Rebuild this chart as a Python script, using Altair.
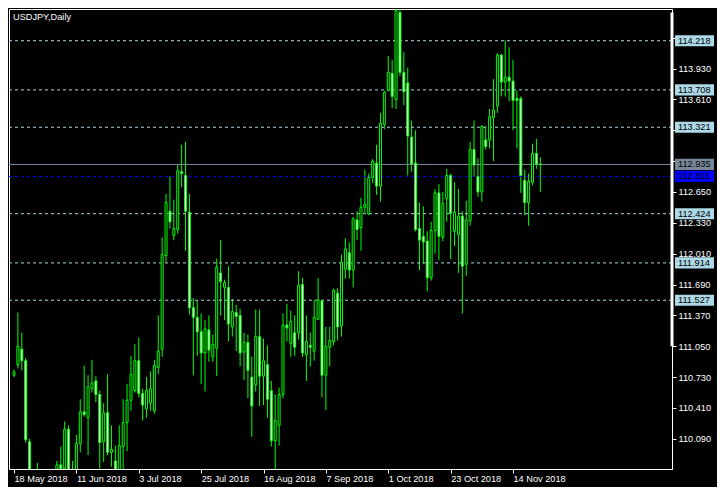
import altair as alt
import pandas as pd

# ---- candle data (USDJPY daily) ----
bar_index = list(range(136))
opens = [110.75, 110.86, 111.02, 110.90, 110.06, 109.25, 109.45, 109.40, 109.05, 108.80,
         108.90, 108.80, 109.82, 109.78, 110.19, 109.70, 109.55, 110.04, 110.37, 110.31,
         110.61, 110.69, 110.55, 110.06, 110.36, 109.95, 109.86, 109.72, 110.01, 110.26,
         110.49, 110.59, 110.90, 110.56, 110.40, 110.46, 110.38, 110.83, 111.02, 111.99,
         112.45, 112.20, 112.26, 112.86, 112.82, 112.44, 111.45, 111.35, 111.20, 110.98,
         111.22, 110.94, 111.03, 111.81, 111.66, 111.66, 111.25, 111.40, 111.37, 110.99,
         111.09, 110.73, 110.65, 111.15, 110.74, 110.86, 110.59, 110.07, 110.23, 110.55,
         111.27, 111.08, 111.19, 111.19, 111.69, 110.96, 111.06, 111.00, 111.33, 111.52,
         110.75, 111.04, 111.10, 111.60, 111.26, 111.85, 112.02, 111.84, 112.36, 112.28,
         112.49, 112.42, 112.80, 112.95, 112.71, 113.35, 113.70, 113.88, 113.61, 114.51,
         113.89, 113.78, 113.22, 112.95, 112.27, 112.19, 112.14, 111.76, 112.25, 112.64,
         112.18, 112.58, 112.82, 112.24, 112.21, 112.40, 111.90, 112.35, 113.09, 112.81,
         112.65, 113.19, 113.19, 113.42, 113.54, 114.07, 113.79, 113.84, 113.80, 113.62,
         113.62, 112.77, 112.54, 112.75, 113.05, 112.94]
highs = [110.81, 111.40, 111.19, 110.93, 110.09, 109.75, 109.84, 109.70, 109.20, 109.10,
         109.10, 109.86, 110.01, 110.27, 110.23, 109.86, 110.13, 110.50, 110.85, 110.75,
         110.91, 110.74, 110.59, 110.46, 110.76, 110.23, 110.02, 110.23, 110.50, 110.66,
         110.95, 111.07, 111.14, 110.61, 110.73, 110.79, 110.91, 111.37, 112.18, 112.63,
         112.81, 112.57, 112.93, 113.14, 113.17, 112.63, 111.55, 111.52, 111.39, 111.32,
         111.37, 111.17, 111.96, 112.15, 111.74, 111.88, 111.54, 111.48, 111.44, 111.19,
         111.17, 110.94, 111.43, 111.43, 111.13, 111.06, 110.69, 110.55, 110.62, 111.39,
         111.49, 111.42, 111.37, 111.83, 111.76, 111.37, 111.19, 111.53, 111.76, 111.53,
         111.25, 111.25, 111.65, 111.65, 112.00, 112.17, 112.13, 112.39, 112.45, 112.59,
         112.88, 112.84, 112.99, 113.14, 113.47, 113.70, 114.06, 114.02, 114.55, 114.55,
         114.10, 113.94, 113.39, 113.29, 112.54, 112.50, 112.24, 112.34, 112.68, 112.73,
         112.65, 112.89, 112.84, 112.75, 112.68, 112.45, 112.56, 113.17, 113.39, 113.00,
         113.34, 113.33, 113.51, 113.82, 114.09, 114.08, 114.22, 114.15, 114.02, 113.70,
         113.64, 112.88, 112.84, 113.15, 113.20, 113.01]
lows = [110.73, 110.82, 110.80, 110.05, 109.15, 109.05, 109.30, 108.95, 108.10, 108.60,
        108.70, 108.75, 109.55, 109.70, 109.60, 109.40, 109.50, 109.95, 110.32, 109.92,
        110.57, 110.47, 109.78, 109.85, 109.92, 109.80, 109.65, 109.67, 109.76, 109.96,
        110.38, 110.57, 110.52, 110.28, 110.31, 110.38, 110.35, 110.76, 110.94, 111.92,
        112.27, 112.15, 112.22, 112.70, 112.04, 111.38, 110.75, 110.95, 110.66, 110.58,
        110.89, 110.89, 110.74, 111.37, 111.32, 111.10, 111.15, 111.00, 110.84, 110.70,
        110.51, 110.11, 110.58, 110.43, 110.44, 110.31, 110.01, 109.75, 110.02, 110.51,
        111.10, 110.94, 110.95, 111.12, 110.94, 110.69, 110.84, 110.90, 111.32, 110.52,
        110.39, 110.84, 111.06, 111.11, 111.15, 111.75, 111.75, 111.66, 112.15, 112.04,
        112.43, 112.41, 112.74, 112.62, 112.55, 113.30, 113.70, 113.52, 113.51, 113.85,
        113.55, 112.82, 112.86, 112.24, 111.84, 111.90, 111.62, 111.73, 112.01, 111.94,
        112.14, 112.34, 111.95, 112.09, 111.81, 111.39, 111.78, 112.30, 112.81, 112.60,
        112.55, 113.09, 113.10, 112.97, 113.47, 113.64, 113.64, 113.59, 113.29, 113.10,
        112.64, 112.41, 112.30, 112.72, 112.89, 112.65]
closes = [110.78, 111.05, 110.90, 110.08, 109.25, 109.45, 109.40, 109.05, 108.80, 108.90,
          108.80, 109.82, 109.78, 110.19, 109.70, 109.55, 110.04, 110.37, 110.34, 110.63,
          110.67, 110.55, 110.05, 110.36, 109.95, 109.98, 109.72, 110.02, 110.26, 110.49,
          110.76, 110.90, 110.56, 110.44, 110.59, 110.61, 110.85, 111.00, 112.00, 112.54,
          112.34, 112.27, 112.87, 112.84, 112.45, 111.45, 111.35, 111.20, 110.98, 111.23,
          111.01, 111.07, 111.87, 111.72, 111.71, 111.28, 111.41, 111.36, 110.98, 111.09,
          110.80, 110.43, 111.15, 110.74, 110.90, 110.50, 110.07, 110.28, 110.55, 111.27,
          111.24, 111.31, 111.04, 111.68, 110.98, 111.10, 111.04, 111.35, 111.53, 110.75,
          111.05, 111.11, 111.63, 111.25, 111.92, 112.06, 111.84, 112.37, 112.26, 112.49,
          112.52, 112.80, 112.97, 112.71, 113.36, 113.68, 113.89, 113.64, 114.53, 113.89,
          113.69, 113.23, 112.94, 112.26, 112.15, 112.13, 111.76, 112.25, 112.64, 112.19,
          112.53, 112.82, 112.43, 112.44, 112.40, 111.88, 112.36, 113.09, 112.93, 112.65,
          113.33, 113.12, 113.43, 113.50, 114.07, 113.79, 113.84, 113.80, 113.60, 113.60,
          112.82, 112.54, 112.76, 113.05, 112.94, 112.935]

# ---- horizontal levels and axis labels ----
level_values = [114.218, 113.708, 113.321, 112.424, 111.914, 111.527]
bid_value = [112.935]
blue_value = [112.811]
price_ticks = [110.090, 110.410, 110.730, 111.050, 111.370, 111.690, 112.010,
               112.330, 112.650, 112.970, 113.290, 113.610, 113.930, 114.250]
hidden_tick_labels = [112.970, 113.290, 114.250]   # covered by level boxes in the reference
date_tick_index = [0, 16, 32, 48, 64, 80, 96, 112, 128]
date_labels = ["18 May 2018", "11 Jun 2018", "3 Jul 2018", "25 Jul 2018", "16 Aug 2018",
               "7 Sep 2018", "1 Oct 2018", "23 Oct 2018", "14 Nov 2018"]
scale_bar = {"top": [114.51], "bottom": [111.05]}
title_text = ["USDJPY,Daily"]

df = pd.DataFrame({"i": bar_index, "o": opens, "h": highs, "l": lows, "c": closes})

W, H = 663, 460
FONT = "Liberation Sans"
FS = 9.2
GREEN = "#00ff00"
LBLUE = "#add8e6"

xs = alt.Scale(domain=[0, 167.5], nice=False, zero=False)
ys = alt.Scale(domain=[109.777, 114.547], nice=False, zero=False)

label_expr = "[" + ",".join("'%s'" % s for s in date_labels) + "][round(datum.value/16)]"
hide_test = " || ".join("abs(datum.value - %s) < 0.0005" % v for v in hidden_tick_labels)
y_label_expr = "(%s) ? '' : format(datum.value, '.3f')" % hide_test

x_axis = alt.Axis(values=date_tick_index, labelExpr=label_expr, orient="bottom",
                  tickSize=4, tickColor="white", domainColor="white", labelColor="white",
                  labelFont=FONT, labelFontSize=FS, labelAlign="left", labelBaseline="top",
                  labelPadding=1, grid=False, title=None, labelFlush=False,
                  labelOverlap=False)
y_axis = alt.Axis(values=price_ticks, labelExpr=y_label_expr, orient="right", tickSize=4,
                  tickColor="white", domainColor="white", labelColor="white",
                  labelFont=FONT, labelFontSize=FS, labelPadding=2, grid=False,
                  title=None, labelOverlap=False, labelFlush=False)


def Y(field):
    return alt.Y(field, scale=ys, axis=y_axis)


lev_df = pd.DataFrame({"v": level_values})
levels = alt.Chart(lev_df).mark_rule(color=LBLUE, strokeDash=[3, 3], strokeWidth=1).encode(
    y=Y("v:Q"))
blue_line = alt.Chart(pd.DataFrame({"v": blue_value})).mark_rule(
    color="#0000ff", strokeDash=[3, 3], strokeWidth=1).encode(y=Y("v:Q"))
bid_line = alt.Chart(pd.DataFrame({"v": bid_value})).mark_rule(
    color="#778899", strokeWidth=1).encode(y=Y("v:Q"))

base = alt.Chart(df)
wicks = base.mark_rule(color=GREEN, strokeWidth=1, clip=True).encode(
    x=alt.X("i:Q", scale=xs, axis=x_axis),
    y=Y("l:Q"),
    y2="h:Q")
bodies = base.mark_bar(size=2, stroke=GREEN, strokeWidth=1, clip=True).encode(
    x=alt.X("i:Q", scale=xs, axis=x_axis),
    y=Y("o:Q"),
    y2="c:Q",
    fill=alt.condition("datum.c > datum.o", alt.value("black"), alt.value("white")))

sbar = alt.Chart(pd.DataFrame(scale_bar)).mark_rule(color="white", strokeWidth=3).encode(
    x=alt.value(W), y=Y("top:Q"), y2="bottom:Q")

box_df = pd.DataFrame({
    "v": level_values + bid_value + blue_value,
    "bg": [LBLUE] * len(level_values) + ["#778899", "#0000ff"],
})
boxes = alt.Chart(box_df).transform_calculate(
    lo="datum.v - 0.058", hi="datum.v + 0.058"
).mark_rect(clip=False).encode(
    x=alt.value(W + 3), x2=alt.value(W + 42),
    y=Y("lo:Q"), y2="hi:Q",
    fill=alt.Fill("bg:N", scale=None))
box_text = alt.Chart(box_df).mark_text(
    align="left", baseline="middle", color="black", font=FONT, fontSize=FS, clip=False
).encode(x=alt.value(W + 6), y=Y("v:Q"),
         text=alt.Text("v:Q", format=".3f"))

title = alt.Chart(pd.DataFrame({"t": title_text})).mark_text(
    align="left", baseline="middle", color="white", font=FONT, fontSize=FS
).encode(x=alt.value(4), y=alt.value(8), text="t:N")

chart = alt.layer(
    wicks, levels, blue_line, bid_line, bodies, sbar, boxes, box_text, title
).properties(
    width=W, height=H,
    padding={"left": 1, "top": 1, "right": 45, "bottom": 18},
    autosize=alt.AutoSizeParams(type="none"),
).configure(background="black").configure_view(stroke="white", strokeWidth=1, fill="black")

chart.save("out.html", embed_options={"renderer": "svg", "actions": False})
